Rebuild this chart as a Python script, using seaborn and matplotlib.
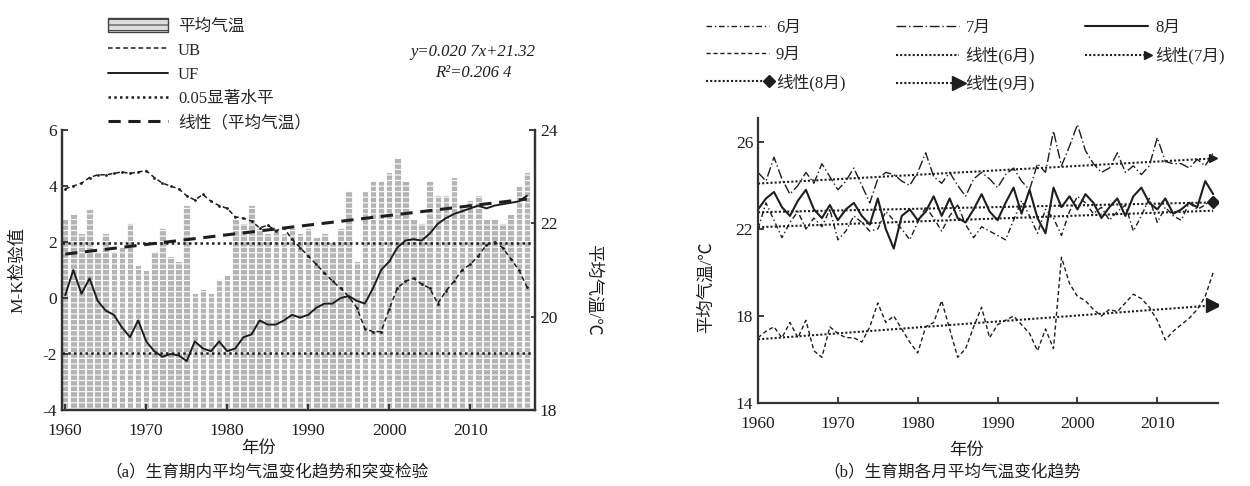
import numpy as np
import pandas as pd
import matplotlib
matplotlib.use("Agg")
import matplotlib.pyplot as plt
import seaborn as sns
from matplotlib.patches import Patch
from matplotlib.lines import Line2D
from matplotlib.legend_handler import HandlerLine2D

# ---- data ----
years = list(range(1960, 2018))

# (a) growing-season mean temperature, degC
mean_temp = [22.1, 22.2, 21.8, 22.3, 21.4, 21.8, 21.4, 21.5, 22.0, 21.1,
             21.0, 21.4, 21.9, 21.3, 21.2, 22.4, 20.5, 20.6, 20.5, 20.8,
             20.9, 22.1, 22.0, 22.4, 21.9, 21.8, 21.9, 21.8, 21.9, 21.8,
             21.9, 21.7, 21.8, 21.6, 21.9, 22.7, 21.2, 22.7, 22.9, 22.9,
             23.1, 23.4, 22.9, 22.1, 22.0, 22.9, 22.6, 22.6, 23.0, 22.4,
             22.5, 22.6, 22.1, 22.1, 22.0, 22.2, 22.8, 23.1]
# Mann-Kendall statistics
ub = [3.9, 4.0, 4.1, 4.3, 4.4, 4.4, 4.45, 4.5, 4.45, 4.5,
      4.55, 4.3, 4.1, 4.0, 3.9, 3.65, 3.5, 3.7, 3.45, 3.3,
      3.2, 2.9, 2.85, 2.75, 2.5, 2.6, 2.4, 2.5, 2.1, 1.8,
      1.5, 1.2, 0.9, 0.6, 0.35, 0.05, -0.35, -1.1, -1.2, -1.2,
      -0.4, 0.35, 0.6, 0.7, 0.5, 0.35, -0.2, 0.25, 0.6, 1.0,
      1.2, 1.5, 1.9, 2.0, 1.8, 1.4, 1.0, 0.4]
uf = [0.1, 1.0, 0.15, 0.7, -0.1, -0.45, -0.6, -1.05, -1.4, -0.8,
      -1.55, -1.9, -2.1, -2.0, -2.05, -2.25, -1.55, -1.8, -1.9, -1.55,
      -1.9, -1.8, -1.4, -1.3, -0.8, -0.95, -0.95, -0.8, -0.6, -0.7,
      -0.6, -0.35, -0.2, -0.2, 0.0, 0.07, -0.1, -0.2, 0.35, 1.0,
      1.3, 1.8, 2.05, 2.1, 2.05, 2.3, 2.65, 2.85, 3.0, 3.1,
      3.2, 3.3, 3.2, 3.3, 3.35, 3.4, 3.45, 3.65]
sig_level = 1.96
trend_slope = 0.0207
trend_intercept = 21.32

# (b) monthly mean temperature, degC
jun = [22.0, 23.2, 22.4, 21.6, 22.3, 22.8, 22.0, 22.5, 22.1, 22.9,
       21.5, 21.9, 22.6, 22.3, 21.9, 22.0, 22.8, 22.4, 22.0, 21.5,
       22.3, 23.0, 22.5, 21.9, 22.6, 23.1, 22.2, 21.6, 22.1, 21.9,
       21.7, 21.5, 22.4, 23.3, 22.6, 21.8, 22.9, 22.5, 21.7, 22.8,
       23.5, 23.2, 22.7, 23.0, 22.4, 22.8, 23.1, 21.9, 22.6, 23.4,
       22.3, 23.0, 22.6, 22.4, 23.2, 22.9, 23.1, 23.5]
jul = [24.6, 24.2, 25.3, 24.3, 23.6, 24.0, 24.6, 24.1, 25.0, 24.4,
       23.8, 24.2, 24.8, 24.0, 23.2, 24.3, 24.6, 24.5, 24.2, 24.0,
       24.6, 25.5, 24.4, 24.1, 24.6, 24.0, 23.5, 24.3, 24.6, 24.3,
       23.9, 24.5, 24.8, 24.2, 23.8, 25.0, 24.6, 26.5, 24.9, 25.8,
       26.8, 25.6, 25.0, 24.6, 24.8, 25.5, 24.6, 24.9, 24.5, 24.9,
       26.2, 25.1, 25.0, 25.0, 24.8, 25.2, 24.9, 25.5]
aug = [22.9, 23.4, 23.7, 23.0, 22.6, 23.3, 23.8, 22.9, 22.5, 23.1,
       22.4, 22.9, 23.2, 22.6, 22.2, 23.4, 22.0, 21.1, 22.6, 22.9,
       22.4, 22.8, 23.5, 22.6, 23.4, 22.5, 22.3, 22.9, 23.6, 22.8,
       22.4, 23.2, 23.9, 22.7, 23.8, 22.5, 21.8, 23.9, 23.0, 23.5,
       22.9, 23.6, 23.2, 22.5, 23.0, 23.4, 22.6, 23.5, 23.9, 23.2,
       22.9, 23.4, 22.7, 22.9, 23.2, 23.0, 24.2, 23.6]
sep = [17.0, 17.3, 17.5, 17.0, 17.7, 17.0, 17.8, 16.4, 16.1, 17.5,
       17.2, 17.0, 17.0, 16.8, 17.5, 18.6, 17.7, 18.0, 17.4, 16.8,
       16.3, 17.5, 17.7, 18.7, 17.4, 16.1, 16.5, 17.5, 18.4, 17.0,
       17.6, 17.8, 18.0, 17.6, 17.2, 16.4, 17.4, 16.5, 20.7, 19.5,
       18.9, 18.7, 18.3, 18.0, 18.3, 18.2, 18.6, 19.0, 18.8, 18.4,
       17.8, 16.9, 17.3, 17.6, 17.9, 18.3, 18.9, 20.0]

sns.set_style("ticks")
plt.rcParams["font.family"] = ["Liberation Serif", "Noto Sans CJK SC"]
plt.rcParams["axes.unicode_minus"] = False
plt.rcParams["hatch.linewidth"] = 0.8

ink = "#1e1e1e"
W, H = 1250, 486
fig = plt.figure(figsize=(12.5, 4.86), dpi=100)


def frac(x0, y_top, x1, y_bot):
    return [x0 / W, 1 - y_bot / H, (x1 - x0) / W, (y_bot - y_top) / H]


# ================= (a) =================
ax = fig.add_axes(frac(62, 130, 535, 410))
ax2 = ax.twinx()

df = pd.DataFrame({"year": years, "temp": mean_temp})
sns.barplot(data=df, x="year", y="temp", native_scale=True, ax=ax2,
            color="#b4b4b4", saturation=1, edgecolor="white",
            hatch="---", linewidth=0.6, width=0.8)
trend = [trend_intercept + trend_slope * (i + 1) for i in range(len(years))]
ax2.plot(years, trend, color=ink, lw=2.2, ls=(0, (4, 2.5)))
ax2.set_ylim(18, 24)
ax2.set_yticks([18, 20, 22, 24])
ax2.set_ylabel("")
ax2.set_xlabel("")

sns.lineplot(x=years, y=ub, ax=ax, color=ink, lw=1.1, linestyle=(0, (3, 2)),
             marker=".", markersize=4, markeredgewidth=0)
sns.lineplot(x=years, y=uf, ax=ax, color=ink, lw=1.4)
ax.axhline(sig_level, color=ink, lw=1.8, ls=(0, (1, 1.3)))
ax.axhline(-sig_level, color=ink, lw=1.8, ls=(0, (1, 1.3)))

ax.set_zorder(ax2.get_zorder() + 1)
ax.patch.set_visible(False)
ax.set_xlim(1959.6, 2018.0)
ax.set_ylim(-4, 6)
ax.set_yticks([-4, -2, 0, 2, 4, 6])
ax.set_xticks([1960, 1970, 1980, 1990, 2000, 2010])
for a in (ax, ax2):
    a.tick_params(direction="in", length=4, width=1.2, labelsize=12.5, colors=ink)
    a.spines["top"].set_visible(False)
    for s in a.spines.values():
        s.set_linewidth(1.6)
        s.set_color("#333333")
ax.tick_params(axis="x", pad=9)

fig.text(18 / W, 1 - 270 / H, "M-K检验值", rotation=90, ha="center", va="center",
         fontsize=12.5, color=ink)
fig.text(592 / W, 1 - 290 / H, "平均气温/℃", rotation=270, ha="center", va="center",
         fontsize=12.5, color=ink)
fig.text(258 / W, 1 - 449 / H, "年份", ha="center", va="center", fontsize=12.5, color=ink)
fig.text(267 / W, 1 - 472 / H, "（a）生育期内平均气温变化趋势和突变检验", ha="center",
         va="center", fontsize=12, color=ink)
fig.text(473 / W, 1 - 52 / H, "y=0.020 7x+21.32", ha="center", va="center",
         fontsize=12, color=ink, style="italic")
fig.text(473 / W, 1 - 73 / H, "R²=0.206 4", ha="center", va="center",
         fontsize=12, color=ink, style="italic")

leg_a = [
    Patch(facecolor="#dcdcdc", edgecolor="#444444", hatch="---", lw=1),
    Line2D([], [], color=ink, lw=1.1, ls=(0, (3, 2))),
    Line2D([], [], color=ink, lw=1.4),
    Line2D([], [], color=ink, lw=1.8, ls=(0, (1, 1.3))),
    Line2D([], [], color=ink, lw=2.2, ls=(0, (4, 2.5))),
]
fig.legend(leg_a, ["平均气温", "UB", "UF", "0.05显著水平", "线性（平均气温）"],
           loc="upper left", bbox_to_anchor=(108 / W, 1 - 18 / H), frameon=False,
           fontsize=12, handlelength=3.6, handleheight=0.9, labelspacing=0.45,
           handletextpad=0.6, borderpad=0, borderaxespad=0)

# ================= (b) =================
bx = fig.add_axes(frac(758, 118, 1218, 403))

styles = {
    "6月": dict(data=jun, ls=(0, (4, 2, 1, 2)), lw=1.0),
    "7月": dict(data=jul, ls=(0, (7, 2, 1, 2)), lw=1.0),
    "8月": dict(data=aug, ls="-", lw=1.5),
    "9月": dict(data=sep, ls=(0, (3, 2)), lw=1.0),
}
handles = {}
for name, st in styles.items():
    sns.lineplot(x=years, y=st["data"], ax=bx, color=ink, lw=st["lw"], linestyle=st["ls"])
    handles[name] = Line2D([], [], color=ink, lw=st["lw"], ls=st["ls"])

fit_marks = {"6月": (None, 0), "7月": (">", 6), "8月": ("D", 6), "9月": (">", 10)}
yr = np.array(years)
trend_handles = []
for name, (mk, ms) in fit_marks.items():
    k, b = np.polyfit(yr, styles[name]["data"], 1)
    bx.plot(yr, k * yr + b, color=ink, lw=1.5, ls=(0, (1, 1)),
            marker=mk, ms=ms, markevery=[len(yr) - 1])
    h = Line2D([], [], color=ink, lw=1.5, ls=(0, (1, 1)), marker=mk, ms=ms)
    handles["线性(" + name + ")"] = h
    if mk is not None:
        trend_handles.append(h)

bx.set_xlim(1960, 2017.6)
bx.set_ylim(14, 27.1)
bx.set_yticks([14, 18, 22, 26])
bx.set_xticks([1960, 1970, 1980, 1990, 2000, 2010])
bx.set_xlabel("")
bx.set_ylabel("")
bx.tick_params(direction="in", length=4, width=1.2, labelsize=12.5, colors=ink)
bx.tick_params(axis="x", pad=9)
for side in ("top", "right"):
    bx.spines[side].set_visible(False)
for side in ("left", "bottom"):
    bx.spines[side].set_linewidth(1.6)
    bx.spines[side].set_color("#333333")

fig.text(707 / W, 1 - 287 / H, "平均气温/℃", rotation=90, ha="center", va="center",
         fontsize=12.5, color=ink)
fig.text(967 / W, 1 - 451 / H, "年份", ha="center", va="center", fontsize=12.5, color=ink)
fig.text(952 / W, 1 - 472 / H, "（b）生育期各月平均气温变化趋势", ha="center",
         va="center", fontsize=12, color=ink)


class EndMarker(HandlerLine2D):
    def create_artists(self, legend, orig_handle, xdescent, ydescent, width,
                       height, fontsize, trans):
        arts = super().create_artists(legend, orig_handle, xdescent, ydescent,
                                      width, height, fontsize, trans)
        for a in arts:
            a.set_markevery([len(a.get_xdata()) - 1])
        return arts


# column-wise order so rows read: 6,7,8 / 9,线性6,线性7 / 线性8,线性9
order = ["6月", "9月", "线性(8月)", "7月", "线性(6月)", "线性(9月)", "8月", "线性(7月)"]
fig.legend([handles[k] for k in order], order, ncol=3, loc="upper left",
           bbox_to_anchor=(706 / W, 1 - 20 / H), frameon=False, fontsize=12,
           handlelength=3.8, labelspacing=0.65, columnspacing=3.0,
           handletextpad=0.4, borderpad=0, borderaxespad=0,
           handler_map={h: EndMarker() for h in trend_handles})

fig.savefig("out.png", dpi=100)
